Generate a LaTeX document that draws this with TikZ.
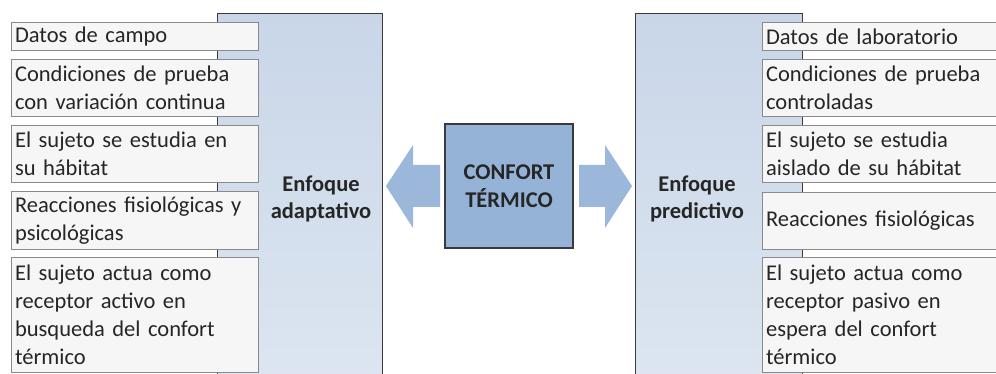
\documentclass[tikz,border=0pt]{standalone}
\usepackage{fontspec}
\setmainfont{Carlito}
\definecolor{panelTop}{HTML}{C9D6E8}
\definecolor{panelBot}{HTML}{DDE6F1}
\definecolor{panelLine}{HTML}{3A3A3A}
\definecolor{boxLine}{HTML}{8A8A8A}
\definecolor{boxFill}{HTML}{F6F6F7}
\definecolor{midBlue}{HTML}{95B3D7}
\definecolor{arrowBlue}{HTML}{9BB7DA}
\definecolor{txt}{HTML}{262626}
\tikzset{
  panel/.style={draw=panelLine, line width=1.3pt, top color=panelTop, bottom color=panelBot,
    anchor=north west, inner sep=0pt},
  itembox/.style={draw=boxLine, line width=1.1pt, fill=boxFill, anchor=north west,
    inner xsep=3.5pt, inner ysep=0pt, align=left, text=txt,
    font=\fontsize{22.5}{28}\selectfont},
  lab/.style={align=center, text=txt, font=\bfseries\fontsize{22.5}{27}\selectfont},
  centerbox/.style={draw=panelLine, line width=1.3pt, fill=midBlue, minimum width=128pt,
    minimum height=124pt, align=center, text=txt, font=\bfseries\fontsize{22.5}{28}\selectfont},
  blockarrow/.style={fill=arrowBlue, draw=none}
}
\begin{document}
\begin{tikzpicture}[x=1pt,y=-1pt]
\useasboundingbox (0,0) rectangle (996,374);
\clip (0,0) rectangle (996,374);
\fill[white] (0,0) rectangle (996,374);
% panels
\node[panel, minimum width=165pt, minimum height=380pt] (pl) at (217,13) {};
\node[panel, minimum width=167pt, minimum height=380pt] (pr) at (635,13) {};
% left items
\node[itembox, minimum width=247pt, text width=240pt, minimum height=28pt] (l1) at (11,22) {Datos de campo};
\node[itembox, minimum width=247pt, text width=240pt, minimum height=57pt] (l2) at (11,59) {Condiciones de prueba\\con variación continua};
\node[itembox, minimum width=247pt, text width=240pt, minimum height=57pt] (l3) at (11,125) {El sujeto se estudia en\\su hábitat};
\node[itembox, minimum width=247pt, text width=240pt, minimum height=58pt] (l4) at (11,191) {Reacciones fisiológicas y\\psicológicas};
\node[itembox, minimum width=247pt, text width=240pt, minimum height=115pt] (l5) at (11,257) {El sujeto actua como\\receptor activo en\\busqueda del confort\\térmico};
% right items
\node[itembox, minimum width=245pt, text width=238pt, minimum height=28pt] (r1) at (762,22) {Datos de laboratorio};
\node[itembox, minimum width=245pt, text width=238pt, minimum height=57pt] (r2) at (762,59) {Condiciones de prueba\\controladas};
\node[itembox, minimum width=245pt, text width=238pt, minimum height=57pt] (r3) at (762,125) {El sujeto se estudia\\aislado de su hábitat};
\node[itembox, minimum width=245pt, text width=238pt, minimum height=57pt] (r4) at (762,192) {Reacciones fisiológicas};
\node[itembox, minimum width=245pt, text width=238pt, minimum height=115pt] (r5) at (762,257) {El sujeto actua como\\receptor pasivo en\\espera del confort\\térmico};
% panel labels
\node[lab] (la) at (321,199) {Enfoque\\adaptativo};
\node[lab] (lp) at (697,199) {Enfoque\\predictivo};
% center
\node[centerbox] (c) at (509,186) {CONFORT\\TÉRMICO};
% arrows
\coordinate (al) at (386,186);
\coordinate (ar) at (632,186);
\fill[blockarrow] (al) -- (413,145) -- (413,165) -- (440,165) -- (440,207) -- (413,207) -- (413,228) -- cycle;
\fill[blockarrow] (ar) -- (605,145) -- (605,165) -- (579,165) -- (579,207) -- (605,207) -- (605,228) -- cycle;
\end{tikzpicture}
\end{document}
